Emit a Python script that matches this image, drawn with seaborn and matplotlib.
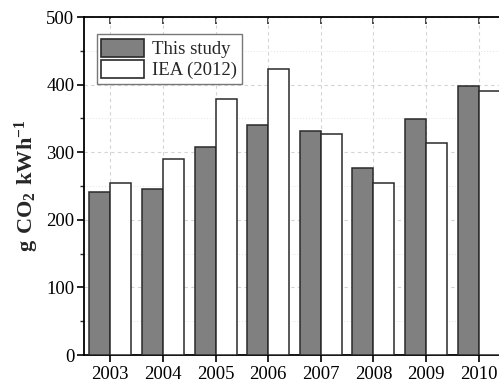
import matplotlib
matplotlib.use("Agg")
import matplotlib.pyplot as plt
from matplotlib.ticker import MultipleLocator
import seaborn as sns
import pandas as pd

years = ["2003", "2004", "2005", "2006", "2007", "2008", "2009", "2010"]
this_study = [241, 246, 308, 340, 332, 276, 349, 398]
iea_2012 = [255, 290, 378, 423, 327, 255, 313, 390]
series_names = ["This study", "IEA (2012)"]

df = pd.DataFrame({
    "year": years * 2,
    "value": this_study + iea_2012,
    "source": [series_names[0]] * len(years) + [series_names[1]] * len(years),
})

sns.set_theme(style="white")
plt.rcParams["font.family"] = ["Liberation Serif", "DejaVu Serif"]
plt.rcParams["mathtext.fontset"] = "custom"
plt.rcParams["mathtext.rm"] = "Liberation Serif"
plt.rcParams["mathtext.bf"] = "Liberation Serif:bold"

fig = plt.figure(figsize=(4.99, 3.86), dpi=100)
ax = fig.add_axes([84 / 499, 31 / 386, 421 / 499, 338 / 386])

sns.barplot(
    data=df, x="year", y="value", hue="source", order=years,
    hue_order=series_names, palette=["#808080", "#ffffff"],
    width=0.8, edgecolor="#2a2a2a", linewidth=1.1, saturation=1,
    ax=ax, zorder=3,
)

ax.set_xlim(-0.5, 7.5)
ax.set_ylim(0, 500)
ax.yaxis.set_major_locator(MultipleLocator(100))
ax.yaxis.set_minor_locator(MultipleLocator(50))

ax.grid(True, which="major", axis="both", color="#d4d4d4", linestyle=(0, (3, 3)), linewidth=0.8, zorder=0)
ax.grid(True, which="minor", axis="y", color="#e4e4e4", linestyle=(0, (1, 2)), linewidth=0.7, zorder=0)
ax.set_axisbelow(True)

for side in ["left", "bottom", "top"]:
    ax.spines[side].set_visible(True)
    ax.spines[side].set_color("black")
    ax.spines[side].set_linewidth(1.3)
ax.spines["right"].set_visible(False)

ax.tick_params(axis="y", which="major", direction="out", length=5, width=1.2,
               labelsize=13.5, colors="black", left=True, pad=2)
ax.tick_params(axis="y", which="minor", direction="out", length=3, width=1.0, left=True)
ax.tick_params(axis="x", which="major", direction="out", length=5, width=1.2,
               labelsize=13.5, colors="black", bottom=True, top=False, pad=3)

# inward ticks along the top spine
top = ax.secondary_xaxis("top")
top.set_xticks(range(len(years)))
top.tick_params(direction="in", length=5, width=1.2, labeltop=False)
top.spines["top"].set_visible(False)

ax.set_xlabel("")
ax.set_ylabel(r"$\mathbf{g\ CO_2\ kWh^{-1}}$", fontsize=16, labelpad=4)

leg = ax.legend(
    loc="upper left", bbox_to_anchor=(0.03, 0.95), fontsize=13.5,
    frameon=True, fancybox=False, edgecolor="#777777", framealpha=1,
    handlelength=2.3, handleheight=1.1, handletextpad=0.4,
    labelspacing=0.1, borderpad=0.25, borderaxespad=0,
)
leg.get_frame().set_linewidth(1.0)
for h in leg.legend_handles:
    h.set_edgecolor("#2a2a2a")
    h.set_linewidth(1.2)

fig.savefig("out.png", dpi=100)
